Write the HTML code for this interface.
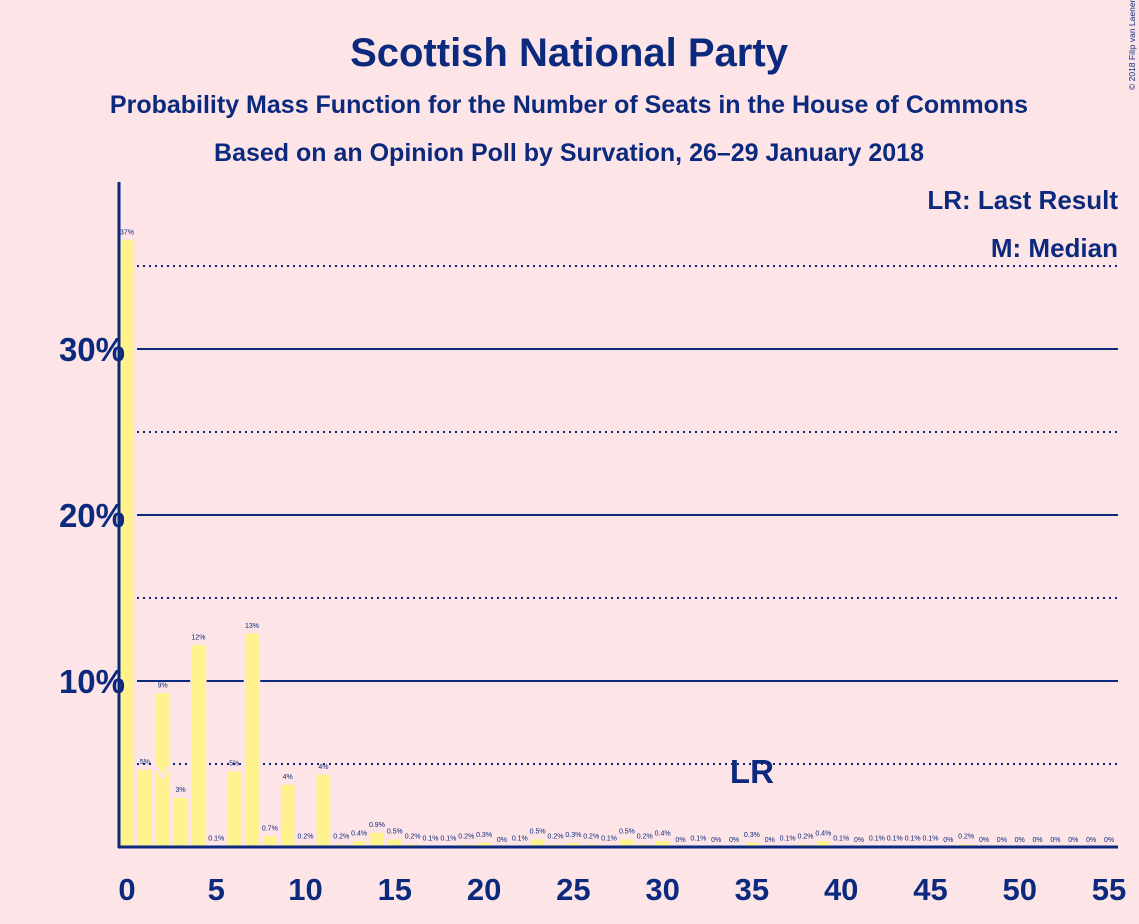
<!DOCTYPE html>
<html><head><meta charset="utf-8"><style>
html,body{margin:0;padding:0;background:#fde4e7;}
svg{display:block;font-family:"Liberation Sans",sans-serif;}
</style></head><body>
<svg width="1139" height="924" viewBox="0 0 1139 924">
<rect width="1139" height="924" fill="#fde4e7"/>
<text x="569" y="66" text-anchor="middle" font-size="40" font-weight="bold" fill="#0c2a7d">Scottish National Party</text>
<text x="569" y="113" text-anchor="middle" font-size="25" font-weight="bold" fill="#0c2a7d">Probability Mass Function for the Number of Seats in the House of Commons</text>
<text x="569" y="161" text-anchor="middle" font-size="25" font-weight="bold" fill="#0c2a7d">Based on an Opinion Poll by Survation, 26–29 January 2018</text>
<text x="1135" y="90" font-size="8.5" fill="#0c2a7d" transform="rotate(-90 1135 90)">© 2018 Filip van Laenen</text>
<text x="1118" y="209" text-anchor="end" font-size="26" font-weight="bold" fill="#0c2a7d">LR: Last Result</text>
<text x="1118" y="257" text-anchor="end" font-size="26" font-weight="bold" fill="#0c2a7d">M: Median</text>
<g id="grid"></g>
<g id="bars"></g>
<g id="labels"></g>
<g id="axes"></g>
</svg>
<script>
const seats = Array.from({length:56},(_,i)=>i);
const probs = [36.6,4.7,9.3,3.0,12.2,0.1,4.6,12.9,0.7,3.8,0.2,4.4,0.2,0.4,0.9,0.5,0.2,0.1,0.1,0.2,0.3,0,0.1,0.5,0.2,0.3,0.2,0.1,0.5,0.2,0.4,0,0.1,0,0,0.3,0,0.1,0.2,0.4,0.1,0,0.1,0.1,0.1,0.1,0,0.2,0,0,0,0,0,0,0,0];
const valueLabels = ["37%","5%","9%","3%","12%","0.1%","5%","13%","0.7%","4%","0.2%","4%","0.2%","0.4%","0.9%","0.5%","0.2%","0.1%","0.1%","0.2%","0.3%","0%","0.1%","0.5%","0.2%","0.3%","0.2%","0.1%","0.5%","0.2%","0.4%","0%","0.1%","0%","0%","0.3%","0%","0.1%","0.2%","0.4%","0.1%","0%","0.1%","0.1%","0.1%","0.1%","0%","0.2%","0%","0%","0%","0%","0%","0%","0%","0%"];
const yTicks = [10,20,30];
const yTickLabels = ["10%","20%","30%"];
const dottedTicks = [5,15,25,35];
const xTicks = [0,5,10,15,20,25,30,35,40,45,50,55];
const medianSeat = 2;
const lastResultSeat = 35;

const NS="http://www.w3.org/2000/svg";
const C="#0c2a7d";
const x = s => 127 + s*(1109-127)/55;
const y = v => 847 - v*16.6;
function mk(tag,parent,attrs){const e=document.createElementNS(NS,tag);for(const k in attrs)e.setAttribute(k,attrs[k]);document.getElementById(parent).appendChild(e);return e;}

yTicks.forEach((t,i)=>{
  const l=mk('line','grid',{x1:137,x2:1118,y1:y(t),y2:y(t),stroke:C,'stroke-width':2});
  
  
  const tx=mk('text','labels',{x:125,y:y(t)+12,'text-anchor':'end','font-size':33,'font-weight':'bold',fill:C});
  tx.textContent=yTickLabels[i];
  
  
});
dottedTicks.forEach(t=>{
  const l=mk('line','grid',{x1:137,x2:1118,y1:y(t),y2:y(t),stroke:C,'stroke-width':2,'stroke-dasharray':'2 4'});
  
  
});
seats.forEach((s,i)=>{
  const v=probs[i];
  if(v>0){
    const r=mk('rect','bars',{x:x(s)-7.5,y:y(v),width:15,height:847-y(v),fill:'#fff28c',stroke:'#fde4e7','stroke-width':1.5});
    
    
  }
  const t=mk('text','labels',{x:x(s),y:y(v)-5,'text-anchor':'middle','font-size':7,fill:C});
  t.textContent=valueLabels[i];
  
  
});
xTicks.forEach(s=>{
  const t=mk('text','labels',{x:x(s),y:900,'text-anchor':'middle','font-size':31,'font-weight':'bold',fill:C});
  t.textContent=s;
  
  
});
const mx=x(medianSeat), my=y(probs[medianSeat]*0.5);
const m=mk('polyline','labels',{points:`${mx-7},${my-4} ${mx},${my+8} ${mx+7},${my-4}`,fill:'none',stroke:'#fde4e7','stroke-width':3});


const lr=mk('text','labels',{x:x(lastResultSeat),y:783,'text-anchor':'middle','font-size':33,'font-weight':'bold',fill:C});
lr.textContent='LR';


const ya=mk('line','axes',{x1:119,x2:119,y1:182,y2:848,stroke:C,'stroke-width':3});


const xa=mk('line','axes',{x1:118,x2:1118,y1:847,y2:847,stroke:C,'stroke-width':3});


</script>
</body></html>
